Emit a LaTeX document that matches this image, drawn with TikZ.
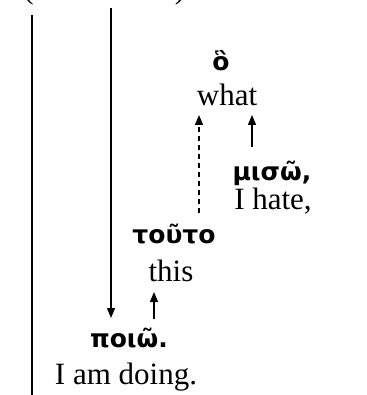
\documentclass[tikz,border=0pt]{standalone}
\usepackage{fontspec}
\setmainfont{Liberation Serif}
\newfontfamily\grk{DejaVu Sans}
\usetikzlibrary{arrows.meta}
\begin{document}
\begin{tikzpicture}[x=1pt,y=-1pt,
  eng/.style={anchor=base,inner sep=0pt,font=\fontsize{31}{36}\selectfont},
  gk/.style={anchor=base,inner sep=0pt,font=\fontsize{25}{30}\selectfont\grk\bfseries},
  rule/.style={line width=1.3pt},
  arr/.style={line width=1.3pt,-{Triangle[length=10pt,width=8pt]}},
  darr/.style={arr,dash pattern=on 5pt off 4pt}]
\useasboundingbox (0,0) rectangle (366,395);
\clip (0,0) rectangle (366,395);

% brackets from the line above, cut by the top edge
\node[eng] (lparen) at (28.5,-1) {(};
\node[eng] (rparen) at (180,-1) {)};

% words with their glosses
\node[gk]  (ho)    at (221,71)  {ὃ};
\node[eng] (what)  at (227,106) {what};
\node[gk]  (misw)  at (272,180) {μισῶ,};
\node[eng] (hate)  at (273,209) {I hate,};
\node[gk]  (touto) at (174,243) {τοῦτο};
\node[eng] (this)  at (171,281) {this};
\node[gk]  (poiw)  at (129,347) {ποιῶ.};
\node[eng] (doing) at (126,384) {I am doing.};

% connector ends
\coordinate (lineA top) at (32,15);
\coordinate (lineA bot) at (32,400);
\coordinate (lineB top) at (111,8);
\coordinate (lineB tip) at (111,318);
\coordinate (dash from) at (199,213);
\coordinate (dash to)   at (199,115);
\coordinate (hate from) at (252,147);
\coordinate (hate to)   at (252,115);
\coordinate (this from) at (154,319);
\coordinate (this to)   at (154,292);

\draw[rule] (lineA top) -- (lineA bot);
\draw[arr]  (lineB top) -- (lineB tip);
\draw[darr] (dash from) -- (dash to);
\draw[arr]  (hate from) -- (hate to);
\draw[arr]  (this from) -- (this to);
\end{tikzpicture}
\end{document}
